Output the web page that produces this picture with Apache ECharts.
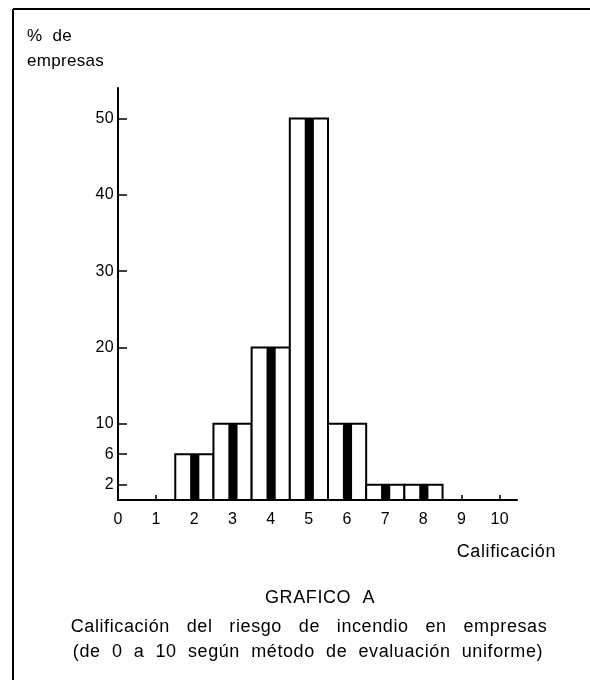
<!DOCTYPE html>
<html>
<head>
<meta charset="utf-8">
<script src="https://cdn.jsdelivr.net/npm/echarts@6/dist/echarts.min.js"></script>
<style>
html,body{margin:0;padding:0;background:#fff;}
#chart{width:590px;height:680px;}
</style>
</head>
<body>
<div id="chart"></div>
<script>
// Data
var scores = [2, 3, 4, 5, 6, 7, 8];          // calificación (0-10)
var percents = [6, 10, 20, 50, 10, 2, 2];    // % de empresas
var yTickValues = [2, 6, 10, 20, 30, 40, 50];
var xTickValues = [0, 1, 2, 3, 4, 5, 6, 7, 8, 9, 10];
var yAxisTitle = ['%  de', 'empresas'];
var xAxisTitle = 'Calificación';
var chartTitle = 'GRAFICO  A';
var captionLines = [
  'Calificación   del   riesgo   de   incendio   en   empresas',
  '(de  0  a  10  según  método  de  evaluación  uniforme)'
];

// slightly wider tracking for the 18px typeset texts, like the original
(function () {
  var proto = CanvasRenderingContext2D.prototype;
  var orig = proto.fillText;
  proto.fillText = function () {
    try { this.letterSpacing = (this.font.indexOf('18px') >= 0) ? '0.6px' : '0.3px'; } catch (e) {}
    return orig.apply(this, arguments);
  };
})();

var FONT = '"Liberation Sans", Arial, sans-serif';
var chart = echarts.init(document.getElementById('chart'), null, {renderer: 'canvas'});

var barData = scores.map(function (s, i) { return [s, percents[i]]; });

var option = {
  backgroundColor: '#fff',
  animation: false,
  grid: {left: 118, right: 73, top: 88, bottom: 180, containLabel: false},
  xAxis: {
    type: 'value', min: 0, max: 10.45, interval: 1,
    axisLine: {show: true, lineStyle: {color: '#000', width: 2}},
    axisTick: {show: true, inside: true, length: 5, lineStyle: {color: '#000', width: 1.5},
      customValues: xTickValues},
    axisLabel: {color: '#000', fontSize: 16, fontFamily: FONT, margin: 12,
      customValues: xTickValues, hideOverlap: false},
    splitLine: {show: false}
  },
  yAxis: {
    type: 'value', min: 0, max: 54,
    axisLine: {show: true, lineStyle: {color: '#000', width: 2}},
    axisTick: {show: true, inside: true, length: 9, lineStyle: {color: '#000', width: 1.5},
      customValues: yTickValues},
    axisLabel: {color: '#000', fontSize: 16, fontFamily: FONT, margin: 4,
      customValues: yTickValues},
    splitLine: {show: false}
  },
  series: [{
    type: 'custom',
    data: barData,
    renderItem: function (params, api) {
      var x = api.value(0), y = api.value(1);
      var tl = api.coord([x - 0.5, y]);
      var br = api.coord([x + 0.5, 0]);
      var sl = api.coord([x - 0.11, y]);
      var sr = api.coord([x + 0.13, 0]);
      return {
        type: 'group',
        children: [
          {type: 'rect', shape: {x: tl[0], y: tl[1], width: br[0] - tl[0], height: br[1] - tl[1]},
            style: {fill: '#fff', stroke: '#000', lineWidth: 2}},
          {type: 'rect', shape: {x: sl[0], y: sl[1], width: sr[0] - sl[0], height: sr[1] - sl[1]},
            style: {fill: '#000'}}
        ]
      };
    }
  }],
  graphic: [
    {type: 'line', shape: {x1: 13, y1: 9, x2: 590, y2: 9}, style: {stroke: '#000', lineWidth: 2}},
    {type: 'line', shape: {x1: 13, y1: 9, x2: 13, y2: 680}, style: {stroke: '#000', lineWidth: 2}},
    {type: 'text', x: 27, y: 36, style: {text: yAxisTitle[0], font: '17px ' + FONT, fill: '#000', textVerticalAlign: 'middle'}},
    {type: 'text', x: 27, y: 61, style: {text: yAxisTitle[1], font: '17px ' + FONT, fill: '#000', textVerticalAlign: 'middle'}},
    {type: 'text', x: 556, y: 552, style: {text: xAxisTitle, font: '18px ' + FONT, fill: '#000', textAlign: 'right', textVerticalAlign: 'middle'}},
    {type: 'text', x: 320, y: 598, style: {text: chartTitle, font: '18px ' + FONT, fill: '#000', textAlign: 'center', textVerticalAlign: 'middle'}},
    {type: 'text', x: 309, y: 627, style: {text: captionLines[0], font: '18px ' + FONT, fill: '#000', textAlign: 'center', textVerticalAlign: 'middle'}},
    {type: 'text', x: 308, y: 652, style: {text: captionLines[1], font: '18px ' + FONT, fill: '#000', textAlign: 'center', textVerticalAlign: 'middle'}}
  ]
};
chart.setOption(option);
</script>
</body>
</html>
